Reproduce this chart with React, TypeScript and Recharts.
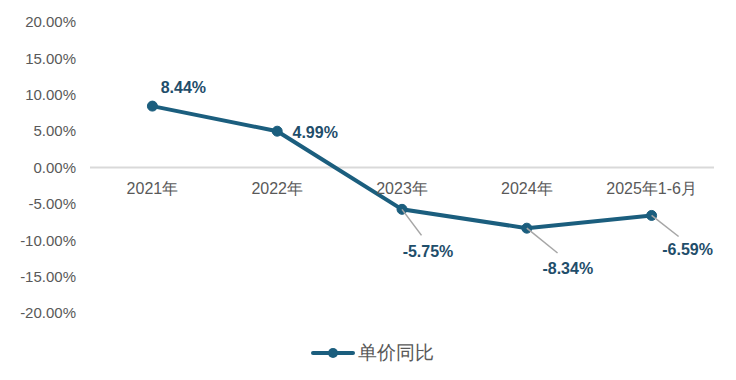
import React from 'react';
import { LineChart, Line, XAxis, YAxis, ReferenceLine, LabelList, Legend } from 'recharts';

const categories = ['2021年', '2022年', '2023年', '2024年', '2025年1-6月'];
const unitPriceYoY = [8.44, 4.99, -5.75, -8.34, -6.59];
const yTicks = [-20, -15, -10, -5, 0, 5, 10, 15, 20];

const SERIES_NAME = '单价同比';
const LINE_COLOR = '#1b5e7e';
const LABEL_COLOR = '#1f4e6b';
const TEXT_GRAY = '#595959';
const FONT = '"Liberation Sans", Arial, sans-serif';

// label placement relative to the point: [dx, dy, leader line?]
const labelOffsets: [number, number, boolean][] = [
  [31, -19, false],
  [38, 1, false],
  [26, 42, true],
  [41, 40, true],
  [36, 34, true],
];

const data = categories.map((name, i) => ({ name, value: unitPriceYoY[i], zero: 0 }));

const ValueLabel = (props: any) => {
  const { x, y, value, index } = props;
  const [dx, dy, leader] = labelOffsets[index];
  return (
    <g>
      {leader && (
        <line x1={x} y1={y} x2={x + dx * 0.75} y2={y + dy * 0.62} stroke="#a6a6a6" strokeWidth={1.5} />
      )}
      <text
        x={x + dx}
        y={y + dy}
        textAnchor="middle"
        dominantBaseline="central"
        fill={LABEL_COLOR}
        fontFamily={FONT}
        fontWeight="bold"
        fontSize={16}
      >
        {value.toFixed(2)}%
      </text>
    </g>
  );
};

const CategoryLabel = (props: any) => {
  const { x, y, value } = props;
  return (
    <text x={x} y={y + 21} textAnchor="middle" dominantBaseline="central" fill={TEXT_GRAY} fontFamily={FONT} fontSize={16}>
      {value}
    </text>
  );
};

const CustomLegend = () => (
  <div
    style={{
      display: 'flex',
      alignItems: 'center',
      justifyContent: 'center',
      fontFamily: FONT,
      marginTop: 27,
      paddingLeft: 30,
    }}
  >
    <svg width={44} height={12} style={{ marginRight: 3 }}>
      <line x1={2} y1={6} x2={42} y2={6} stroke={LINE_COLOR} strokeWidth={4} strokeLinecap="round" />
      <circle cx={22} cy={6} r={5} fill={LINE_COLOR} />
    </svg>
    <span style={{ color: TEXT_GRAY, fontSize: 19 }}>{SERIES_NAME}</span>
  </div>
);

export default function App() {
  return (
    <div style={{ width: 736, height: 380, background: '#fff' }}>
      <style>{'body{margin:0}'}</style>
      <LineChart width={736} height={380} data={data} margin={{ top: 22, right: 22, bottom: 0, left: 0 }}>
        <XAxis dataKey="name" hide height={0} scale="band" />
        <YAxis
          width={90}
          domain={[-20, 20]}
          ticks={yTicks}
          axisLine={false}
          tickLine={false}
          interval={0}
          tickFormatter={(v: number) => `${v.toFixed(2)}%`}
          tick={{ fill: TEXT_GRAY, fontSize: 15, fontFamily: FONT }}
          tickMargin={8}
        />
        <ReferenceLine y={0} stroke="#d9d9d9" strokeWidth={2} />
        <Legend verticalAlign="bottom" height={67} content={<CustomLegend />} />
        <Line
          dataKey="zero"
          stroke="none"
          dot={false}
          activeDot={false}
          legendType="none"
          isAnimationActive={false}
        >
          <LabelList dataKey="name" content={<CategoryLabel />} />
        </Line>
        <Line
          dataKey="value"
          name={SERIES_NAME}
          stroke={LINE_COLOR}
          strokeWidth={4}
          dot={{ r: 5, fill: LINE_COLOR, stroke: LINE_COLOR, strokeWidth: 1 }}
          isAnimationActive={false}
        >
          <LabelList dataKey="value" content={<ValueLabel />} />
        </Line>
      </LineChart>
    </div>
  );
}
